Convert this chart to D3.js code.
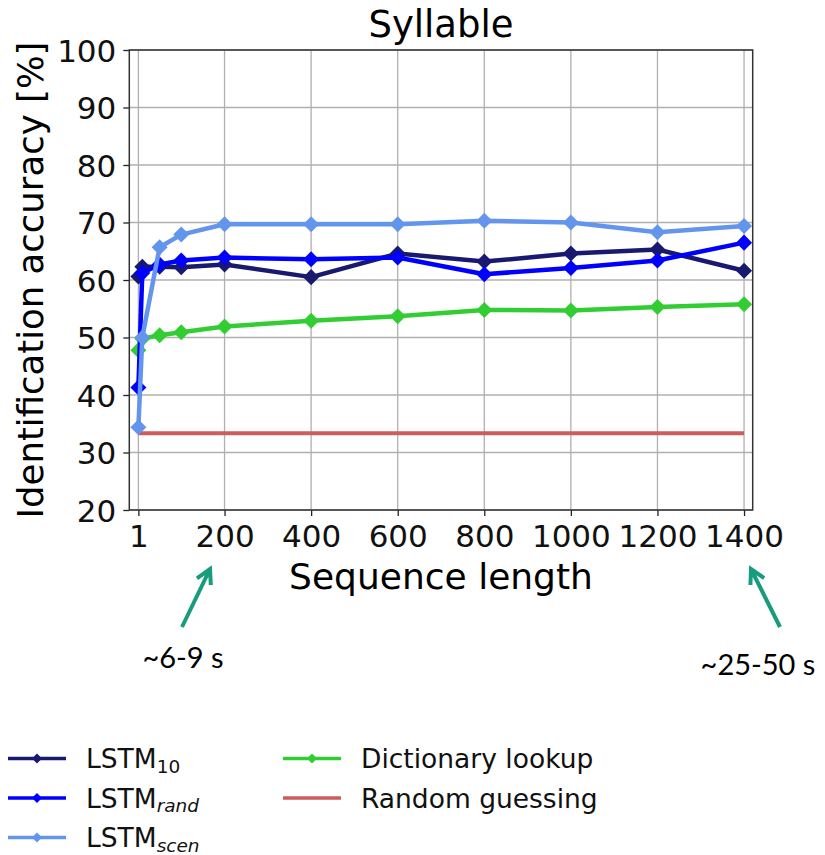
<!DOCTYPE html>
<html>
<head>
<meta charset="utf-8">
<script src="https://cdn.jsdelivr.net/npm/d3@7"></script>
<style>
  body { margin: 0; background: #fff; }
  svg { display: block; font-family: "DejaVu Sans", sans-serif; }
</style>
</head>
<body>
<svg id="chart" width="825" height="855"></svg>
<script>
// sequence lengths and accuracies [%]
const seqLengths = [1, 10, 50, 100, 200, 400, 600, 800, 1000, 1200, 1400];
const lstm10   = [60.6, 62.3, 62.3, 62.2, 62.7, 60.5, 64.6, 63.2, 64.6, 65.3, 61.6];
const lstmRand = [41.3, 61.2, 62.7, 63.4, 63.9, 63.6, 63.9, 61.0, 62.1, 63.4, 66.5];
const lstmScen = [34.4, 50.0, 65.7, 67.9, 69.7, 69.7, 69.7, 70.3, 70.0, 68.3, 69.4];
const dictLookup = [47.8, 49.8, 50.4, 50.9, 51.9, 52.9, 53.7, 54.8, 54.7, 55.3, 55.8];
const randomGuess = 100 / 3;
const xTicks = [1, 200, 400, 600, 800, 1000, 1200, 1400];
const yTicks = [20, 30, 40, 50, 60, 70, 80, 90, 100];

const series = [
  { name: "LSTM", sub: "10", italic: false, values: lstm10, color: "#191970" },
  { name: "LSTM", sub: "rand", italic: true, values: lstmRand, color: "#0000ff" },
  { name: "LSTM", sub: "scen", italic: true, values: lstmScen, color: "#6495ed" },
  { name: "Dictionary lookup", values: dictLookup, color: "#32cd32" },
];

const svg = d3.select("#chart");
const plotLeft = 129.3, plotRight = 752.7, plotTop = 50, plotBottom = 510;

const x = d3.scaleLinear().domain([-20, 1420]).range([plotLeft, plotRight]);
const y = d3.scaleLinear().domain([20, 100]).range([plotBottom, plotTop]);

// grid
svg.append("g").selectAll("line").data(xTicks).join("line")
  .attr("x1", d => x(d)).attr("x2", d => x(d))
  .attr("y1", plotTop).attr("y2", plotBottom)
  .attr("stroke", "#b0b0b0").attr("stroke-width", 1.3);
svg.append("g").selectAll("line").data(yTicks).join("line")
  .attr("x1", plotLeft).attr("x2", plotRight)
  .attr("y1", d => y(d)).attr("y2", d => y(d))
  .attr("stroke", "#b0b0b0").attr("stroke-width", 1.3);

// axes
const xAxis = svg.append("g").attr("transform", `translate(0,${plotBottom})`)
  .call(d3.axisBottom(x).tickValues(xTicks).tickFormat(d3.format("d")).tickSize(6).tickPadding(9));
const yAxis = svg.append("g").attr("transform", `translate(${plotLeft},0)`)
  .call(d3.axisLeft(y).tickValues(yTicks).tickFormat(d3.format("d")).tickSize(6).tickPadding(7));
[xAxis, yAxis].forEach(g => {
  g.select(".domain").remove();
  g.selectAll(".tick line").attr("stroke", "#222").attr("stroke-width", 1.3);
  g.selectAll("text").attr("font-family", "DejaVu Sans").attr("font-size", 31).attr("fill", "#111");
});
xAxis.selectAll("text").attr("dy", "0.72em");
yAxis.selectAll("text").attr("dy", "0.36em");

svg.append("rect")
  .attr("x", plotLeft).attr("y", plotTop)
  .attr("width", plotRight - plotLeft).attr("height", plotBottom - plotTop)
  .attr("fill", "none").attr("stroke", "#333").attr("stroke-width", 1.5);

// random guessing baseline
svg.append("line")
  .attr("x1", x(seqLengths[0])).attr("x2", x(seqLengths[seqLengths.length - 1]))
  .attr("y1", y(randomGuess)).attr("y2", y(randomGuess))
  .attr("stroke", "#cd5c5c").attr("stroke-width", 4);

const line = d3.line().x((d, i) => x(seqLengths[i])).y(d => y(d));
const diamond = d3.symbol().type(d3.symbolSquare).size(128);

[series[3], series[0], series[1], series[2]].forEach(s => {
  const g = svg.append("g");
  g.append("path").attr("d", line(s.values))
    .attr("fill", "none").attr("stroke", s.color)
    .attr("stroke-width", 4.5).attr("stroke-linejoin", "round");
  g.selectAll("path.m").data(s.values).join("path").attr("class", "m")
    .attr("d", diamond)
    .attr("transform", (d, i) => `translate(${x(seqLengths[i])},${y(d)}) rotate(45)`)
    .attr("fill", s.color);
});

// titles
svg.append("text").attr("x", (plotLeft + plotRight) / 2).attr("y", 37)
  .attr("text-anchor", "middle").attr("font-size", 37).text("Syllable");
svg.append("text").attr("x", (plotLeft + plotRight) / 2).attr("y", 589)
  .attr("text-anchor", "middle").attr("font-size", 36).text("Sequence length");
svg.append("text").attr("transform", `translate(43,${(plotTop + plotBottom) / 2}) rotate(-90)`)
  .attr("text-anchor", "middle").attr("font-size", 35.5).text("Identification accuracy [%]");

// annotations with arrows
const teal = "#179c7d";
function arrow(x1, y1, x2, y2) {
  const a = Math.atan2(y2 - y1, x2 - x1), h = 16, spread = 0.5;
  svg.append("path")
    .attr("d", `M${x1},${y1}L${x2},${y2}` +
      `M${x2 - h * Math.cos(a - spread)},${y2 - h * Math.sin(a - spread)}L${x2},${y2}` +
      `L${x2 - h * Math.cos(a + spread)},${y2 - h * Math.sin(a + spread)}`)
    .attr("fill", "none").attr("stroke", teal).attr("stroke-width", 4)
    .attr("stroke-linecap", "butt").attr("stroke-linejoin", "miter");
}
arrow(182, 627, 210, 569);
arrow(780, 627, 751, 569);
svg.append("text").attr("x", 183).attr("y", 668).attr("text-anchor", "middle")
  .attr("font-family", "Lato").attr("font-size", 29).text("~6-9 s");
svg.append("text").attr("x", 758).attr("y", 675).attr("text-anchor", "middle")
  .attr("font-family", "Lato").attr("font-size", 29).text("~25-50 s");

// legend
const legendItems = [
  { s: series[0], col: 0, row: 0 },
  { s: series[1], col: 0, row: 1 },
  { s: series[2], col: 0, row: 2 },
  { s: series[3], col: 1, row: 0 },
  { s: { name: "Random guessing", color: "#cd5c5c", noMarker: true }, col: 1, row: 1 },
];
const colX = [8, 283], rowY0 = 758.5, rowStep = 39.5;
const legDiamond = d3.symbol().type(d3.symbolSquare).size(50);
legendItems.forEach(({ s, col, row }) => {
  const lx = colX[col], ly = rowY0 + row * rowStep;
  const g = svg.append("g").attr("transform", `translate(${lx},${ly})`);
  g.append("line").attr("x1", 0).attr("x2", 58).attr("y1", 0).attr("y2", 0)
    .attr("stroke", s.color).attr("stroke-width", 3.5);
  if (!s.noMarker) {
    g.append("path").attr("d", legDiamond).attr("transform", "translate(29,0) rotate(45)")
      .attr("fill", s.color);
  }
  const t = g.append("text").attr("x", 78).attr("y", 9.5).attr("font-size", 26.5).attr("fill", "#111");
  t.append("tspan").text(s.name);
  if (s.sub) {
    t.append("tspan").attr("dy", 4.5).attr("font-size", 18.5)
      .attr("font-style", s.italic ? "italic" : "normal").text(s.sub);
  }
});
</script>
</body>
</html>
